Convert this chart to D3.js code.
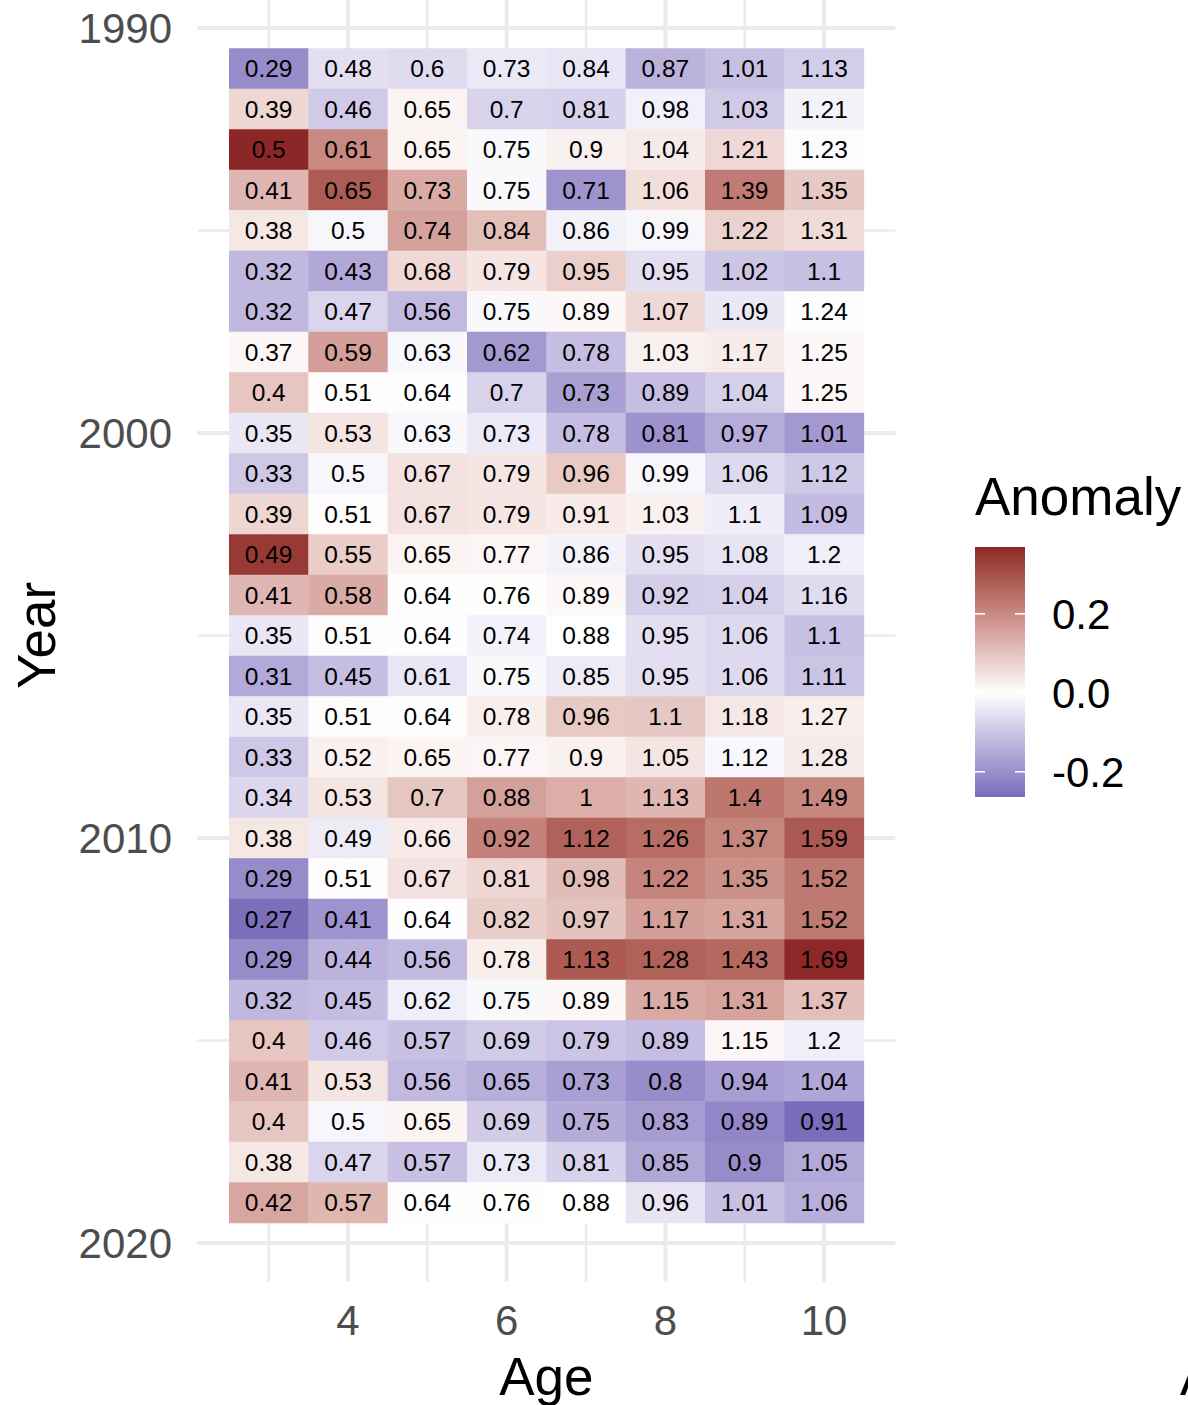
<!DOCTYPE html>
<html>
<head>
<meta charset="utf-8">
<script src="https://cdn.jsdelivr.net/npm/d3@7"></script>
<style>
  html, body { margin: 0; padding: 0; background: #fff; }
  svg { display: block; font-family: "Liberation Sans", Arial, Helvetica, sans-serif; }
</style>
</head>
<body>
<svg id="chart" width="1188" height="1405"></svg>
<script>
// ---- data ----
const ages = [3, 4, 5, 6, 7, 8, 9, 10];
const years = [1991, 1992, 1993, 1994, 1995, 1996, 1997, 1998, 1999, 2000,
               2001, 2002, 2003, 2004, 2005, 2006, 2007, 2008, 2009, 2010,
               2011, 2012, 2013, 2014, 2015, 2016, 2017, 2018, 2019];
// weight-at-age values, one row per year, columns = ages 3..10
const values = [
  [0.29, 0.48, 0.6, 0.73, 0.84, 0.87, 1.01, 1.13],
  [0.39, 0.46, 0.65, 0.7, 0.81, 0.98, 1.03, 1.21],
  [0.5, 0.61, 0.65, 0.75, 0.9, 1.04, 1.21, 1.23],
  [0.41, 0.65, 0.73, 0.75, 0.71, 1.06, 1.39, 1.35],
  [0.38, 0.5, 0.74, 0.84, 0.86, 0.99, 1.22, 1.31],
  [0.32, 0.43, 0.68, 0.79, 0.95, 0.95, 1.02, 1.1],
  [0.32, 0.47, 0.56, 0.75, 0.89, 1.07, 1.09, 1.24],
  [0.37, 0.59, 0.63, 0.62, 0.78, 1.03, 1.17, 1.25],
  [0.4, 0.51, 0.64, 0.7, 0.73, 0.89, 1.04, 1.25],
  [0.35, 0.53, 0.63, 0.73, 0.78, 0.81, 0.97, 1.01],
  [0.33, 0.5, 0.67, 0.79, 0.96, 0.99, 1.06, 1.12],
  [0.39, 0.51, 0.67, 0.79, 0.91, 1.03, 1.1, 1.09],
  [0.49, 0.55, 0.65, 0.77, 0.86, 0.95, 1.08, 1.2],
  [0.41, 0.58, 0.64, 0.76, 0.89, 0.92, 1.04, 1.16],
  [0.35, 0.51, 0.64, 0.74, 0.88, 0.95, 1.06, 1.1],
  [0.31, 0.45, 0.61, 0.75, 0.85, 0.95, 1.06, 1.11],
  [0.35, 0.51, 0.64, 0.78, 0.96, 1.1, 1.18, 1.27],
  [0.33, 0.52, 0.65, 0.77, 0.9, 1.05, 1.12, 1.28],
  [0.34, 0.53, 0.7, 0.88, 1, 1.13, 1.4, 1.49],
  [0.38, 0.49, 0.66, 0.92, 1.12, 1.26, 1.37, 1.59],
  [0.29, 0.51, 0.67, 0.81, 0.98, 1.22, 1.35, 1.52],
  [0.27, 0.41, 0.64, 0.82, 0.97, 1.17, 1.31, 1.52],
  [0.29, 0.44, 0.56, 0.78, 1.13, 1.28, 1.43, 1.69],
  [0.32, 0.45, 0.62, 0.75, 0.89, 1.15, 1.31, 1.37],
  [0.4, 0.46, 0.57, 0.69, 0.79, 0.89, 1.15, 1.2],
  [0.41, 0.53, 0.56, 0.65, 0.73, 0.8, 0.94, 1.04],
  [0.4, 0.5, 0.65, 0.69, 0.75, 0.83, 0.89, 0.91],
  [0.38, 0.47, 0.57, 0.73, 0.81, 0.85, 0.9, 1.05],
  [0.42, 0.57, 0.64, 0.76, 0.88, 0.96, 1.01, 1.06]
];
const xTicks = [4, 6, 8, 10];
const xMinor = [3, 5, 7, 9];
const yTicks = [1990, 2000, 2010, 2020];
const yMinor = [1995, 2005, 2015];
const legendTicks = [-0.2, 0.0, 0.2];
const legendTickLabels = ["-0.2", "0.0", "0.2"];
const legendTitle = "Anomaly";
const xTitle = "Age";
const yTitle = "Year";

// ---- derived: anomaly = value / column mean - 1 ----
const colMeans = ages.map((a, j) => d3.mean(values, r => r[j]));
const cells = [];
years.forEach((yr, i) => ages.forEach((a, j) => {
  cells.push({ year: yr, age: a, value: values[i][j], anomaly: values[i][j] / colMeans[j] - 1 });
}));
const aMin = d3.min(cells, d => d.anomaly);
const aMax = d3.max(cells, d => d.anomaly);
const maxAbs = Math.max(Math.abs(aMin), Math.abs(aMax));

const lowCol = "#3e3a9f", midCol = "#ffffff", highCol = "#8d2727";
const lowI = d3.interpolateLab(midCol, lowCol);
const highI = d3.interpolateLab(midCol, highCol);
function fillOf(a) {
  const t = a / maxAbs;
  return t < 0 ? lowI(-t) : highI(t);
}

// ---- scales ----
const svg = d3.select("#chart");
const x = d3.scaleLinear().domain([4, 10]).range([348, 824]);
const y = d3.scaleLinear().domain([1990, 2020]).range([28, 1243]);
const xLo = 2.1, xHi = 10.9;       // expanded panel limits
const yLo = 1989.05, yHi = 2020.95;
const cw = x(1) - x(0), ch = y(1) - y(0);

// ---- grid ----
const grid = svg.append("g");
grid.selectAll(".ymin").data(yMinor).join("line")
  .attr("x1", x(xLo)).attr("x2", x(xHi)).attr("y1", d => y(d)).attr("y2", d => y(d))
  .attr("stroke", "#ebebeb").attr("stroke-width", 2.5);
grid.selectAll(".xmin").data(xMinor).join("line")
  .attr("y1", y(yLo)).attr("y2", y(yHi)).attr("x1", d => x(d)).attr("x2", d => x(d))
  .attr("stroke", "#ebebeb").attr("stroke-width", 2.5);
grid.selectAll(".ymaj").data(yTicks).join("line")
  .attr("x1", x(xLo)).attr("x2", x(xHi)).attr("y1", d => y(d)).attr("y2", d => y(d))
  .attr("stroke", "#ebebeb").attr("stroke-width", 4);
grid.selectAll(".xmaj").data(xTicks).join("line")
  .attr("y1", y(yLo)).attr("y2", y(yHi)).attr("x1", d => x(d)).attr("x2", d => x(d))
  .attr("stroke", "#ebebeb").attr("stroke-width", 4);

// ---- tiles ----
const tiles = svg.append("g");
tiles.selectAll("rect").data(cells).join("rect")
  .attr("x", d => x(d.age - 0.5))
  .attr("y", d => y(d.year - 0.5))
  .attr("width", cw + 0.5)
  .attr("height", ch + 0.5)
  .attr("fill", d => fillOf(d.anomaly));
tiles.selectAll("text").data(cells).join("text")
  .attr("x", d => x(d.age))
  .attr("y", d => y(d.year))
  .attr("dy", "0.36em")
  .attr("text-anchor", "middle")
  .attr("font-size", 24.5)
  .attr("fill", "#000")
  .text(d => String(d.value));

// ---- axes labels ----
svg.append("g").selectAll("text").data(yTicks).join("text")
  .attr("x", 172).attr("y", d => y(d)).attr("dy", "0.36em")
  .attr("text-anchor", "end").attr("font-size", 42).attr("fill", "#4d4d4d")
  .text(d => d);
svg.append("g").selectAll("text").data(xTicks).join("text")
  .attr("x", d => x(d)).attr("y", 1335)
  .attr("text-anchor", "middle").attr("font-size", 42).attr("fill", "#4d4d4d")
  .text(d => d);

svg.append("text")
  .attr("x", (x(xLo) + x(xHi)) / 2).attr("y", 1395)
  .attr("text-anchor", "middle").attr("font-size", 53).attr("fill", "#000")
  .text(xTitle);
svg.append("text")
  .attr("transform", `translate(55,${(y(yLo) + y(yHi)) / 2}) rotate(-90)`)
  .attr("text-anchor", "middle").attr("font-size", 53).attr("fill", "#000")
  .text(yTitle);

// ---- legend ----
const lg = svg.append("g");
const lx = 975, lw = 50, lTop = 547, lBot = 797;
const ls = d3.scaleLinear().domain([aMin, aMax]).range([lBot, lTop]);
const defs = svg.append("defs");
const grad = defs.append("linearGradient").attr("id", "lgrad")
  .attr("x1", 0).attr("y1", 1).attr("x2", 0).attr("y2", 0);
d3.range(0, 41).forEach(k => {
  const a = aMin + (aMax - aMin) * k / 40;
  grad.append("stop").attr("offset", k / 40).attr("stop-color", fillOf(a));
});
lg.append("rect").attr("x", lx).attr("y", lTop).attr("width", lw).attr("height", lBot - lTop)
  .attr("fill", "url(#lgrad)");
lg.selectAll(".tl").data(legendTicks).join("line")
  .attr("x1", lx).attr("x2", lx + 10).attr("y1", d => ls(d)).attr("y2", d => ls(d))
  .attr("stroke", "#fff").attr("stroke-width", 1.5);
lg.selectAll(".tr").data(legendTicks).join("line")
  .attr("x1", lx + lw - 10).attr("x2", lx + lw).attr("y1", d => ls(d)).attr("y2", d => ls(d))
  .attr("stroke", "#fff").attr("stroke-width", 1.5);
lg.selectAll("text.lab").data(legendTicks).join("text")
  .attr("class", "lab")
  .attr("x", 1052).attr("y", d => ls(d)).attr("dy", "0.36em")
  .attr("font-size", 42).attr("fill", "#000")
  .text((d, i) => legendTickLabels[i]);
lg.append("text").attr("x", 975).attr("y", 515)
  .attr("font-size", 53).attr("fill", "#000").text(legendTitle);

// cut-off title of a neighbouring panel at the right edge (cut in the reference too)
svg.append("text").attr("x", 1180).attr("y", 1395)
  .attr("font-size", 53).attr("fill", "#000").text("A");
</script>
</body>
</html>
